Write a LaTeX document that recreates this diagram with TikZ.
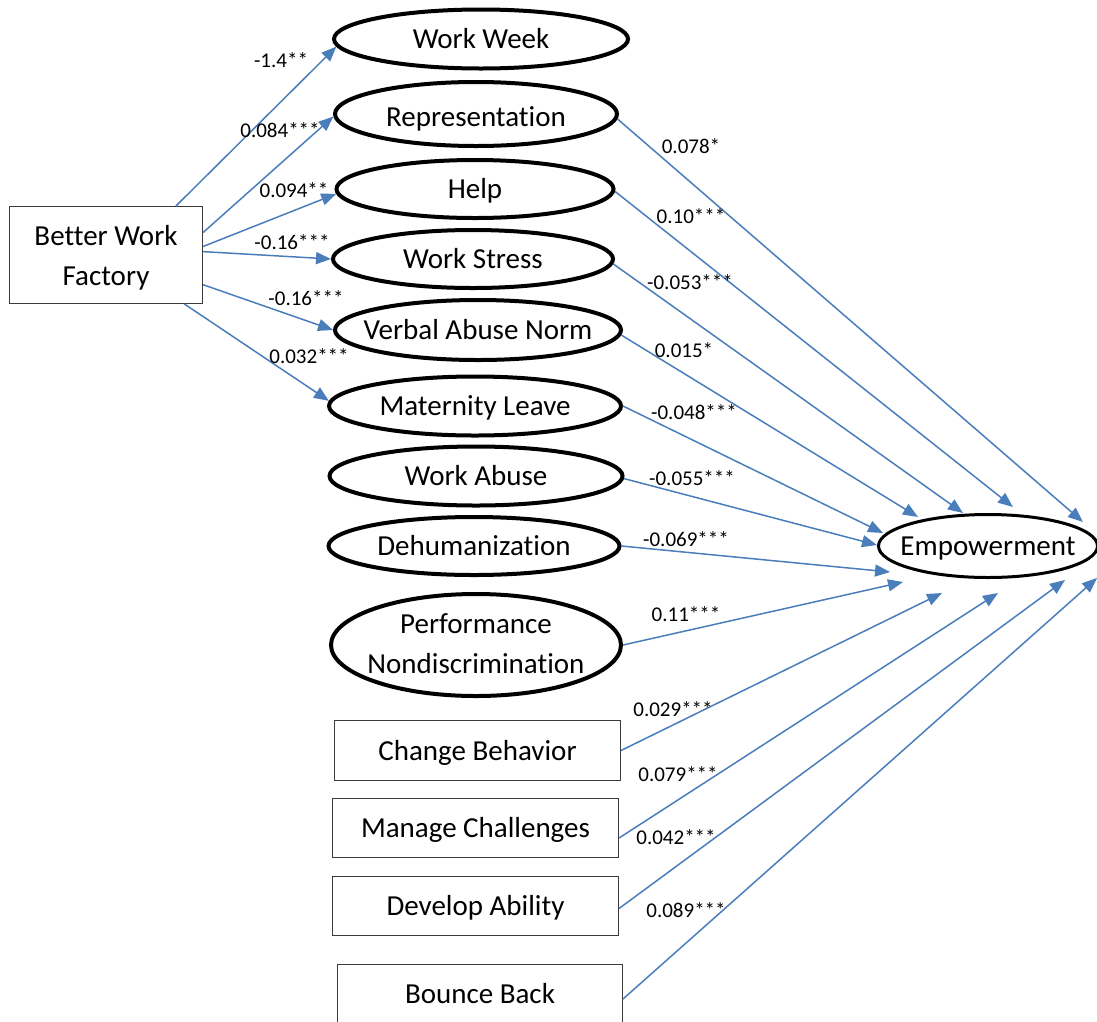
\documentclass[tikz,border=0pt]{standalone}
\usepackage{fontspec}
\setmainfont{Carlito}[Ligatures=NoCommon]
\usetikzlibrary{shapes.geometric, arrows.meta, calc}
\definecolor{pathblue}{RGB}{74,126,187}
\definecolor{boxgray}{RGB}{60,60,60}

\begin{document}
\begin{tikzpicture}[x=1pt, y=-1pt,
	nodefont/.style={font=\fontsize{29}{40}\selectfont},
	capline/.style={text height=21pt, text depth=2pt},
	lat/.style={ellipse, draw=black, line width=4pt, inner sep=0pt},
	title/.style={label={[nodefont, capline]center:#1}},
	obs/.style={rectangle, draw=boxgray, line width=1.3pt, inner sep=0pt, nodefont},
	coef/.style={inner sep=0pt, font=\fontsize{21}{25}\selectfont},
	eff/.style={draw=pathblue, line width=1.5pt, -{Triangle[length=15pt,width=12pt]}}]
		\clip (0,0) rectangle (1097,1021);
		% source and mediators
		\draw (106,255) node[obs, minimum width=192.7pt, minimum height=96.7pt,
			label={[nodefont, align=center, yshift=-3pt]center:{Better Work\\Factory}}] (bwf) {}
		(481,39) node[lat, title=Work Week, minimum width=294pt, minimum height=59pt] (ww) {}
		(476,114) node[lat, minimum width=282pt, minimum height=64pt,
			label={[nodefont, capline, yshift=-3pt]center:Representation}] (rep) {}
		(475,189) node[lat, title=Help, minimum width=277pt, minimum height=58pt] (help) {}
		(473,259) node[lat, title=Work Stress, minimum width=280pt, minimum height=58pt] (ws) {}
		(478,330) node[lat, title=Verbal Abuse Norm, minimum width=286pt, minimum height=60pt] (van) {}
		(475,406) node[lat, title=Maternity Leave, minimum width=292pt, minimum height=59pt] (ml) {}
		(476,476) node[lat, title=Work Abuse, minimum width=293pt, minimum height=59pt] (wa) {}
		(474,546) node[lat, title=Dehumanization, minimum width=291pt, minimum height=58pt] (deh) {}
		(476,645) node[lat, minimum width=290pt, minimum height=102pt,
			label={[nodefont, align=center, yshift=1pt]center:{Performance\\Nondiscrimination}}] (pnd) {}
		(477.5,750.5) node[obs, capline, minimum width=285.7pt, minimum height=59.7pt] (cb) {Change Behavior}
		(475.5,828) node[obs, capline, minimum width=285.7pt, minimum height=58.7pt] (mc) {Manage Challenges}
		(475.5,906) node[obs, capline, minimum width=285.7pt, minimum height=58.7pt] (da) {Develop Ability}
		(480,994) node[obs, capline, minimum width=284.7pt, minimum height=58.7pt] (bb) {Bounce Back}
		(988,546) node[lat, title=Empowerment, line width=3pt, minimum width=219pt, minimum height=63pt] (emp) {};
		
		% paths from the factory
		\draw[eff] (bwf.35) -- (ww.183);
		\draw[eff] (bwf.13) -- (rep.181);
		\draw[eff] (bwf.5) -- (help.182);
		\draw[eff] (bwf.2) -- (ws.west);
		\draw[eff] (bwf.-17) -- (van.west);
		\draw[eff] (bwf.-32) -- (ml.178);
		
		% paths into empowerment
		\draw[eff] (rep.358) -- ($(emp)+(95,-24)$);
		\draw[eff] (help.359) -- ($(emp)+(25,-39)$);
		\draw[eff] (ws.358) -- ($(emp)+(-25,-33)$);
		\draw[eff] (van.358) -- ($(emp)+(-70,-29)$);
		\draw[eff] (ml.east) -- ($(emp)+(-105,-13)$);
		\draw[eff] (wa.359) -- ($(emp)+(-111,-1)$);
		\draw[eff] (deh.east) -- ($(emp)+(-98,26)$);
		\draw[eff] (pnd.east) -- ($(emp)+(-85,36)$);
		\draw[eff] (cb.east) -- ($(emp)+(-46,47)$);
		\draw[eff] (mc.-4) -- ($(emp)+(10,47)$);
		\draw[eff] (da.-1) -- ($(emp)+(77,34)$);
		\draw[eff] (bb.-2) -- ($(emp)+(109,32)$);
		
		% coefficients
		\draw (281,60) node[coef] (k1) {-1.4**}
		(280,130) node[coef] (k2) {0.084***}
		(294,190) node[coef] (k3) {0.094**}
		(292,242) node[coef] (k4) {-0.16***}
		(306,298) node[coef] (k5) {-0.16***}
		(309,356) node[coef] (k6) {0.032***}
		(691,146) node[coef] (k7) {0.078*}
		(691,216) node[coef] (k8) {0.10***}
		(690,282) node[coef] (k9) {-0.053***}
		(684,350) node[coef] (k10) {0.015*}
		(694,412) node[coef] (k11) {-0.048***}
		(692,478) node[coef] (k12) {-0.055***}
		(686,539) node[coef] (k13) {-0.069***}
		(686,614) node[coef] (k14) {0.11***}
		(673,709) node[coef] (k15) {0.029***}
		(678,774) node[coef] (k16) {0.079***}
		(676,837) node[coef] (k17) {0.042***}
		(686,910) node[coef] (k18) {0.089***};
	\end{tikzpicture}
\end{document}
